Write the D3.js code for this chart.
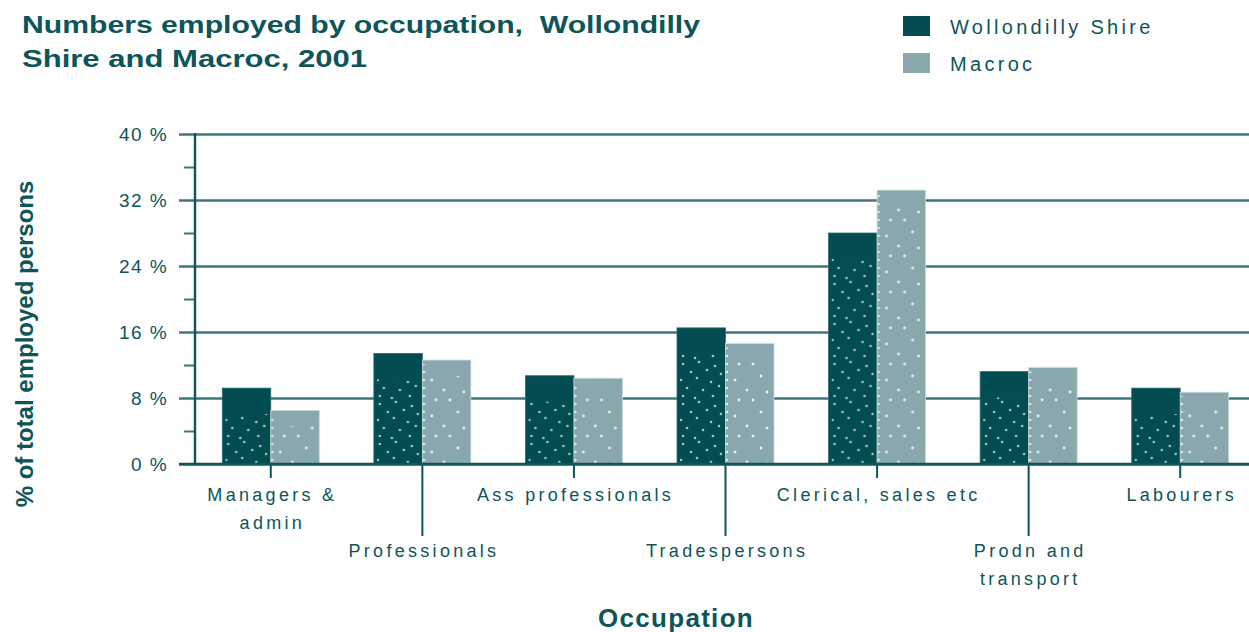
<!DOCTYPE html>
<html>
<head>
<meta charset="utf-8">
<script src="https://d3js.org/d3.v7.min.js"></script>
<style>
  body { margin: 0; background: #fff; }
  svg { display: block; }
</style>
</head>
<body>
<div id="chart"></div>
<script>
// chart data
const occupations = ["Managers & admin", "Professionals", "Ass professionals", "Tradespersons",
                     "Clerical, sales etc", "Prodn and transport", "Labourers"];
// label lines as printed under the axis
const occupationLines = [["Managers &", "admin"], ["Professionals"], ["Ass professionals"], ["Tradespersons"],
                         ["Clerical, sales etc"], ["Prodn and", "transport"], ["Labourers"]];
const seriesNames = ["Wollondilly Shire", "Macroc"];
const wollondilly = [9.2, 13.4, 10.7, 16.5, 28.0, 11.2, 9.2];
const macroc = [6.5, 12.6, 10.4, 14.6, 33.2, 11.7, 8.7];
const yTicks = [0, 8, 16, 24, 32, 40];
const yMinorTicks = [4, 12, 20, 28, 36];

const width = 1249, height = 632;
const teal = "#0d5559";
const darkFill = "#034d52";
const lightFill = "#88a8ae";
const gridColor = "#3c777b";

const svg = d3.select("#chart").append("svg")
    .attr("width", width)
    .attr("height", height);

const defs = svg.append("defs");

// dotted textures used by the original bars
const dotPat = defs.append("pattern")
    .attr("id", "dotsDark")
    .attr("patternUnits", "userSpaceOnUse")
    .attr("width", 48).attr("height", 40);
[[6, 4], [22, 2], [38, 6], [14, 12], [30, 10], [44, 14], [4, 20], [20, 18], [34, 22],
 [10, 28], [26, 30], [42, 26], [6, 36], [18, 38], [36, 36]].forEach(p => {
    dotPat.append("circle").attr("cx", p[0]).attr("cy", p[1]).attr("r", 1.3).attr("fill", "#cfe0e2").attr("opacity", 0.8);
});

const dotPatL = defs.append("pattern")
    .attr("id", "dotsLight")
    .attr("patternUnits", "userSpaceOnUse")
    .attr("width", 48).attr("height", 36);
[[14, 4], [28, 4], [10, 20], [36, 16], [22, 30], [42, 32]].forEach(p => {
    dotPatL.append("circle").attr("cx", p[0]).attr("cy", p[1]).attr("r", 1.4).attr("fill", "#f2f7f7").attr("opacity", 0.9);
});

const edgePat = defs.append("pattern")
    .attr("id", "dotsEdge")
    .attr("patternUnits", "userSpaceOnUse")
    .attr("width", 4).attr("height", 8);
edgePat.append("circle").attr("cx", 2).attr("cy", 4).attr("r", 1.2).attr("fill", "#f2f7f7").attr("opacity", 0.9);

// Scales
const xScale = d3.scaleBand()
    .domain(occupations)
    .range([195, 1256])
    .paddingInner(0.36)
    .paddingOuter(0.18);

const xSub = d3.scaleBand()
    .domain(seriesNames)
    .range([0, xScale.bandwidth()]);

const yScale = d3.scaleLinear()
    .domain([0, 40])
    .range([464, 134]);

// gridlines (major ticks extend left of the axis to x=179)
svg.append("g")
    .attr("transform", `translate(${width},0)`)
    .call(d3.axisLeft(yScale).tickValues(yTicks).tickSize(width - 179).tickFormat(""))
    .call(g => g.select(".domain").remove())
    .call(g => g.selectAll(".tick line").attr("stroke", gridColor).attr("stroke-width", 2.4));

// minor ticks
svg.append("g")
    .attr("transform", "translate(195,0)")
    .call(d3.axisLeft(yScale).tickValues(yMinorTicks).tickSize(11).tickFormat(""))
    .call(g => g.select(".domain").remove())
    .call(g => g.selectAll(".tick line").attr("stroke", gridColor).attr("stroke-width", 2));

// y tick labels
svg.append("g")
    .selectAll("text")
    .data(yTicks)
    .enter()
    .append("text")
    .attr("x", 168)
    .attr("y", d => yScale(d))
    .attr("dy", "0.36em")
    .attr("text-anchor", "end")
    .attr("fill", teal)
    .attr("font-family", "Liberation Sans, Arial, sans-serif")
    .attr("font-size", "19px")
    .attr("letter-spacing", "1.4px")
    .text(d => d + " %");

// bars
const groups = svg.append("g")
    .selectAll("g")
    .data(occupations)
    .enter()
    .append("g")
    .attr("transform", d => `translate(${xScale(d)},0)`);

groups.append("rect")
    .attr("x", xSub(seriesNames[0]))
    .attr("y", (d, i) => yScale(wollondilly[i]))
    .attr("width", xSub.bandwidth())
    .attr("height", (d, i) => yScale(0) - yScale(wollondilly[i]))
    .attr("fill", darkFill)
    .attr("stroke", "#2f6a6e")
    .attr("stroke-width", 0.8);

groups.append("rect")
    .attr("x", xSub(seriesNames[0]) + 3)
    .attr("y", (d, i) => yScale(wollondilly[i]) + 26)
    .attr("width", xSub.bandwidth() - 6)
    .attr("height", (d, i) => Math.max(0, yScale(0) - yScale(wollondilly[i]) - 26))
    .attr("fill", "url(#dotsDark)");

groups.append("rect")
    .attr("x", xSub(seriesNames[1]))
    .attr("y", (d, i) => yScale(macroc[i]))
    .attr("width", xSub.bandwidth())
    .attr("height", (d, i) => yScale(0) - yScale(macroc[i]))
    .attr("fill", lightFill)
    .attr("stroke", "#c9dadc")
    .attr("stroke-width", 0.8);

groups.append("rect")
    .attr("x", xSub(seriesNames[1]) + 2)
    .attr("y", (d, i) => yScale(macroc[i]) + 16)
    .attr("width", xSub.bandwidth() - 4)
    .attr("height", (d, i) => Math.max(0, yScale(0) - yScale(macroc[i]) - 16))
    .attr("fill", "url(#dotsLight)");

groups.append("rect")
    .attr("x", xSub(seriesNames[1]))
    .attr("y", (d, i) => yScale(macroc[i]) + 4)
    .attr("width", 4)
    .attr("height", (d, i) => Math.max(0, yScale(0) - yScale(macroc[i]) - 4))
    .attr("fill", "url(#dotsEdge)");

// y axis line
svg.append("line")
    .attr("x1", 195).attr("x2", 195)
    .attr("y1", yScale(40) - 1).attr("y2", yScale(0) + 1)
    .attr("stroke", teal).attr("stroke-width", 2.4);

// baseline
svg.append("line")
    .attr("x1", 179).attr("x2", width)
    .attr("y1", yScale(0)).attr("y2", yScale(0))
    .attr("stroke", teal).attr("stroke-width", 2.4);

// x ticks, alternating short and long
const xCenters = occupations.map(d => xScale(d) + xScale.bandwidth() / 2);
svg.append("g")
    .selectAll("line")
    .data(occupations)
    .enter()
    .append("line")
    .attr("x1", (d, i) => xCenters[i]).attr("x2", (d, i) => xCenters[i])
    .attr("y1", yScale(0))
    .attr("y2", (d, i) => i % 2 === 0 ? yScale(0) + 14 : yScale(0) + 72)
    .attr("stroke", teal).attr("stroke-width", 2);

// x labels
const xLab = svg.append("g")
    .selectAll("text")
    .data(occupations)
    .enter()
    .append("text")
    .attr("text-anchor", "middle")
    .attr("fill", teal)
    .attr("font-family", "Liberation Sans, Arial, sans-serif")
    .attr("font-size", "18px")
    .attr("letter-spacing", "3.3px")
    .attr("y", (d, i) => i % 2 === 0 ? 501 : 557);

xLab.selectAll("tspan")
    .data((d, i) => occupationLines[i].map(t => ({ t, i })))
    .enter()
    .append("tspan")
    .attr("x", d => xCenters[d.i] + 1.6)
    .attr("dy", (d, j) => j === 0 ? 0 : 28)
    .text(d => d.t);

// axis titles
svg.append("text")
    .attr("x", 676)
    .attr("y", 627)
    .attr("text-anchor", "middle")
    .attr("fill", teal)
    .attr("font-family", "Liberation Sans, Arial, sans-serif")
    .attr("font-weight", "bold")
    .attr("font-size", "26px")
    .attr("letter-spacing", "1.3px")
    .text("Occupation");

svg.append("text")
    .attr("transform", "translate(33,344) rotate(-90)")
    .attr("text-anchor", "middle")
    .attr("fill", teal)
    .attr("font-family", "Liberation Sans Narrow, Liberation Sans, Arial, sans-serif")
    .attr("font-weight", "bold")
    .attr("font-size", "24px")
    .text("% of total employed persons");

// title
const title = svg.append("text")
    .attr("fill", teal)
    .attr("font-family", "Liberation Sans, Arial, sans-serif")
    .attr("font-weight", "bold")
    .attr("font-size", "23px")
    .style("white-space", "pre");
title.append("tspan").attr("x", 22).attr("y", 33).attr("textLength", 678).attr("lengthAdjust", "spacingAndGlyphs")
    .text("Numbers employed by occupation,  Wollondilly");
title.append("tspan").attr("x", 22).attr("y", 67).attr("textLength", 345).attr("lengthAdjust", "spacingAndGlyphs")
    .text("Shire and Macroc, 2001");

// legend
const legend = svg.append("g")
    .selectAll("g")
    .data(seriesNames)
    .enter()
    .append("g")
    .attr("transform", (d, i) => `translate(903,${16 + i * 37})`);

legend.append("rect")
    .attr("width", 27)
    .attr("height", 20)
    .attr("fill", (d, i) => i === 0 ? darkFill : lightFill);

legend.append("text")
    .attr("x", 47)
    .attr("y", 11)
    .attr("dy", "0.36em")
    .attr("fill", teal)
    .attr("font-family", "Liberation Sans, Arial, sans-serif")
    .attr("font-size", "20px")
    .attr("letter-spacing", "3.3px")
    .text(d => d);
</script>
</body>
</html>
